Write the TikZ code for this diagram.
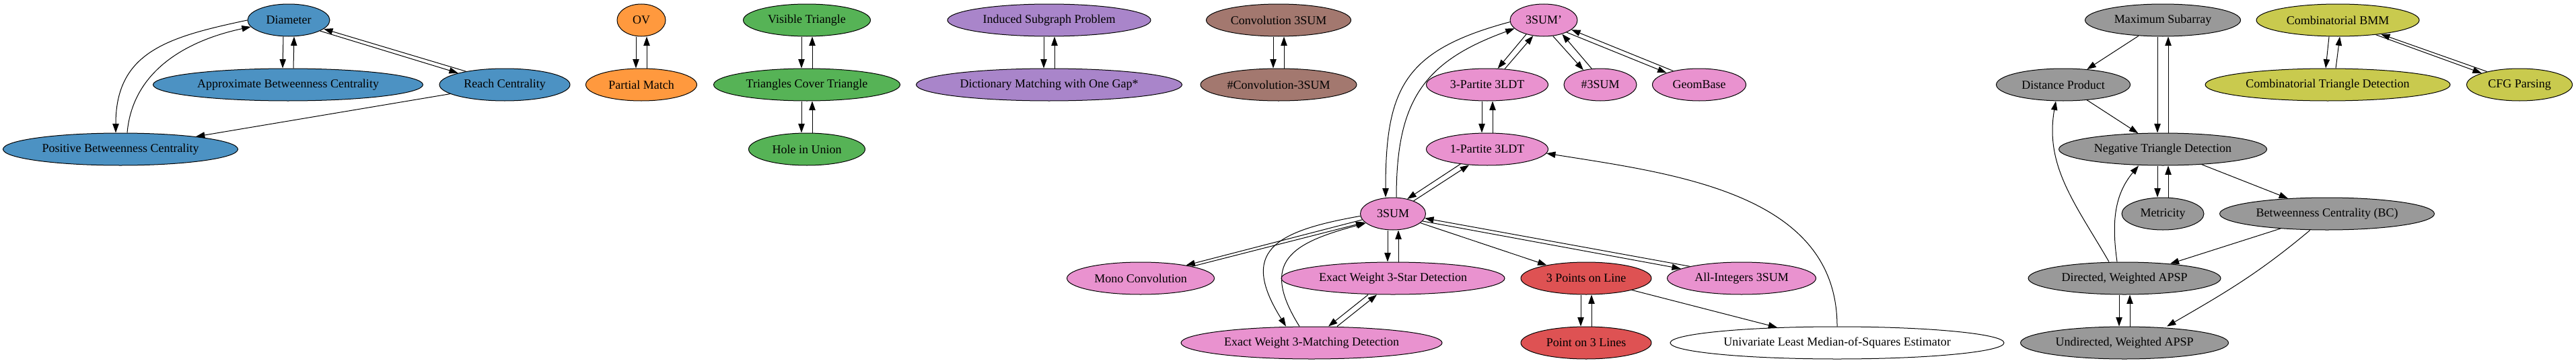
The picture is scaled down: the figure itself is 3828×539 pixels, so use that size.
\documentclass[tikz,border=0pt]{standalone}
\usepackage{fontspec}
\setmainfont{Liberation Serif}
\usetikzlibrary{shapes.geometric,arrows.meta}

\definecolor{cblue}{RGB}{76,146,195}
\definecolor{corange}{RGB}{255,153,62}
\definecolor{cgreen}{RGB}{86,179,86}
\definecolor{cpurple}{RGB}{169,133,202}
\definecolor{cbrown}{RGB}{163,120,111}
\definecolor{cpink}{RGB}{233,146,207}
\definecolor{cred}{RGB}{222,82,83}
\definecolor{cgray}{RGB}{153,153,153}
\definecolor{colive}{RGB}{201,202,78}

\tikzset{every picture/.style={line width=0.75pt}}
\tikzset{
  problem/.style={ellipse, draw, minimum width=54pt, minimum height=36pt,
    inner xsep=2pt, inner ysep=2pt, font=\fontsize{13.5}{16}\selectfont},
  reduce/.style={-{Triangle[length=10pt,width=7pt]}},
}

\begin{document}
\begin{tikzpicture}[x=0.75pt,y=0.75pt,yscale=-1,xscale=1]
\useasboundingbox (0,0) rectangle (3828,539);

%Shape: Ellipse (centrality group)
\node [problem, fill=cblue, minimum width=91.5pt] (dia) at (429,30) {Diameter};
\node [problem, fill=cblue, minimum width=300.75pt] (abc) at (428,126) {Approximate Betweenness Centrality};
\node [problem, fill=cblue, minimum width=145.5pt] (reach) at (750,126) {Reach Centrality};
\node [problem, fill=cblue, minimum width=261.75pt] (pbc) at (179,222) {Positive Betweenness Centrality};
%Shape: Ellipse (OV group)
\node [problem, fill=corange] (ov) at (953,30) {OV};
\node [problem, fill=corange, minimum width=123.75pt] (pm) at (953,126) {Partial Match};
%Shape: Ellipse (triangle group)
\node [problem, fill=cgreen, minimum width=141.75pt] (vt) at (1199,30) {Visible Triangle};
\node [problem, fill=cgreen, minimum width=207.75pt] (tct) at (1199,126) {Triangles Cover Triangle};
\node [problem, fill=cgreen, minimum width=129.75pt] (hiu) at (1199,222) {Hole in Union};
%Shape: Ellipse (subgraph group)
\node [problem, fill=cpurple, minimum width=226.5pt] (isp) at (1559,30) {Induced Subgraph Problem};
\node [problem, fill=cpurple, minimum width=296.25pt] (dmg) at (1559,126) {Dictionary Matching with One Gap*};
%Shape: Ellipse (convolution group)
\node [problem, fill=cbrown, minimum width=161.25pt] (conv) at (1900,30) {Convolution 3SUM};
\node [problem, fill=cbrown, minimum width=174pt] (nconv) at (1900,126) {\#Convolution-3SUM};
%Shape: Ellipse (3SUM group)
\node [problem, fill=cpink, minimum width=75pt] (sumpr) at (2294,30) {3SUM'};
\node [problem, fill=cpink, minimum width=135.75pt] (tpl) at (2210,126) {3-Partite 3LDT};
\node [problem, fill=cpink, minimum width=81pt] (nsum) at (2378,126) {\#3SUM};
\node [problem, fill=cpink, minimum width=104.25pt] (geom) at (2525,126) {GeomBase};
\node [problem, fill=cpink, minimum width=135.75pt] (opl) at (2210,222) {1-Partite 3LDT};
\node [problem, fill=cpink, minimum width=72.75pt] (sum) at (2070,318) {3SUM};
\node [problem, fill=cpink, minimum width=164.25pt] (mono) at (1695,414) {Mono Convolution};
\node [problem, fill=cpink, minimum width=249pt] (star) at (2070,414) {Exact Weight 3-Star Detection};
\node [problem, fill=cpink, minimum width=291pt] (match) at (1949,510) {Exact Weight 3-Matching Detection};
\node [problem, fill=cpink, minimum width=165.75pt] (aint) at (2588,414) {All-Integers 3SUM};
\node [problem, fill=cred, minimum width=145.5pt] (tpol) at (2357,414) {3 Points on Line};
\node [problem, fill=cred, minimum width=145.5pt] (po3l) at (2357,510) {Point on 3 Lines};
\node [problem, fill=white, minimum width=372pt] (ulms) at (2730,510) {Univariate Least Median-of-Squares Estimator};
%Shape: Ellipse (APSP group)
\node [problem, fill=cgray, minimum width=173.25pt] (maxs) at (3214,30) {Maximum Subarray};
\node [problem, fill=cgray, minimum width=149.25pt] (dp) at (3066,126) {Distance Product};
\node [problem, fill=cgray, minimum width=231.75pt] (ntd) at (3214,222) {Negative Triangle Detection};
\node [problem, fill=cgray, minimum width=91.5pt] (met) at (3214,318) {Metricity};
\node [problem, fill=cgray, minimum width=239.25pt] (bc) at (3458,318) {Betweenness Centrality (BC)};
\node [problem, fill=cgray, minimum width=214.5pt] (dapsp) at (3157,414) {Directed, Weighted APSP};
\node [problem, fill=cgray, minimum width=231.75pt] (uapsp) at (3157,510) {Undirected, Weighted APSP};
%Shape: Ellipse (BMM group)
\node [problem, fill=colive, minimum width=181.5pt] (cbmm) at (3474,30) {Combinatorial BMM};
\node [problem, fill=colive, minimum width=273pt] (ctd) at (3459,126) {Combinatorial Triangle Detection};
\node [problem, fill=colive, minimum width=117.75pt] (cfg) at (3744,126) {CFG Parsing};

%Straight Lines (centrality group)
\draw [reduce] ([xshift=-6pt]dia.south) -- ([xshift=-6pt]abc.north);
\draw [reduce] ([xshift=6pt]abc.north) -- ([xshift=6pt]dia.south);
\draw [reduce] (dia.-19) -- (reach.166);
\draw [reduce] (reach.161) -- (dia.-14);
\draw [reduce] (reach) -- (pbc);
%Curve Lines
\draw [reduce] (dia.180) to[out=168,in=-90,looseness=1.2] ([xshift=-5.25pt]pbc.north);
\draw [reduce] ([xshift=7.5pt]pbc.north) to[out=-85,in=168] (dia.190);

%Straight Lines (small pairs)
\draw [reduce] ([xshift=-6pt]ov.south) -- ([xshift=-6pt]pm.north);
\draw [reduce] ([xshift=6pt]pm.north) -- ([xshift=6pt]ov.south);
\draw [reduce] ([xshift=-6pt]vt.south) -- ([xshift=-6pt]tct.north);
\draw [reduce] ([xshift=6pt]tct.north) -- ([xshift=6pt]vt.south);
\draw [reduce] ([xshift=-6pt]tct.south) -- ([xshift=-6pt]hiu.north);
\draw [reduce] ([xshift=6pt]hiu.north) -- ([xshift=6pt]tct.south);
\draw [reduce] ([xshift=-6pt]isp.south) -- ([xshift=-6pt]dmg.north);
\draw [reduce] ([xshift=6pt]dmg.north) -- ([xshift=6pt]isp.south);
\draw [reduce] ([xshift=-6pt]conv.south) -- ([xshift=-6pt]nconv.north);
\draw [reduce] ([xshift=6pt]nconv.north) -- ([xshift=6pt]conv.south);

%Straight Lines (3SUM group)
\draw [reduce] (sumpr.219) -- (tpl.57);
\draw [reduce] (tpl.42) -- (sumpr.236);
\draw [reduce] (sumpr.300) -- (nsum.139);
\draw [reduce] (nsum.118) -- (sumpr.323);
\draw [reduce] (sumpr.332) -- (geom.160);
\draw [reduce] (geom.152) -- (sumpr.341);
\draw [reduce] ([xshift=-6pt]tpl.south) -- ([xshift=-6pt]opl.north);
\draw [reduce] ([xshift=6pt]opl.north) -- ([xshift=6pt]tpl.south);
\draw [reduce] (opl.209) -- (sum.46);
\draw [reduce] (sum.32) -- (opl.221);
\draw [reduce] (sum.191) -- (mono.16);
\draw [reduce] (mono.13) -- (sum.197);
\draw [reduce] ([xshift=-6pt]sum.south) -- ([xshift=-6pt]star.north);
\draw [reduce] ([xshift=6pt]star.north) -- ([xshift=6pt]sum.south);
\draw [reduce] ([xshift=-27.75pt]star.south) -- ([xshift=18.75pt]match.north);
\draw [reduce] ([xshift=28.5pt]match.north) -- ([xshift=-18pt]star.south);
\draw [reduce] (sum) -- (tpol);
\draw [reduce] (sum.-14) -- (aint.171);
\draw [reduce] (aint.167) -- (sum.-8);
\draw [reduce] ([xshift=-6pt]tpol.south) -- ([xshift=-6pt]po3l.north);
\draw [reduce] ([xshift=6pt]po3l.north) -- ([xshift=6pt]tpol.south);
\draw [reduce] (tpol) -- (ulms);
%Curve Lines
\draw [reduce] (sumpr.183) to[out=165,in=-90,looseness=1.3] ([xshift=-8.25pt]sum.north);
\draw [reduce] ([xshift=3.75pt]sum.north) to[out=-90,in=160,looseness=1.2] (sumpr.196);
\draw [reduce] (sum.184) to[out=170,in=-122,looseness=1.7] ([xshift=-28.5pt]match.north);
\draw [reduce] ([xshift=-13.5pt]match.north) to[out=-122,in=165,looseness=1.6] (sum.199);
\draw [reduce] (ulms.north) to[out=-90,in=9] (opl.-4);

%Straight Lines (APSP group)
\draw [reduce] (maxs) -- (dp);
\draw [reduce] ([xshift=-6pt]maxs.south) -- ([xshift=-6pt]ntd.north);
\draw [reduce] ([xshift=6pt]ntd.north) -- ([xshift=6pt]maxs.south);
\draw [reduce] (dp) -- (ntd);
\draw [reduce] ([xshift=-6pt]ntd.south) -- ([xshift=-6pt]met.north);
\draw [reduce] ([xshift=6pt]met.north) -- ([xshift=6pt]ntd.south);
\draw [reduce] (ntd) -- (bc);
\draw [reduce] (bc) -- (dapsp);
\draw [reduce] ([xshift=-6pt]dapsp.south) -- ([xshift=-6pt]uapsp.north);
\draw [reduce] ([xshift=6pt]uapsp.north) -- ([xshift=6pt]dapsp.south);
%Curve Lines
\draw [reduce] ([xshift=-17.25pt]dapsp.north) to[out=-120,in=100] ([xshift=-8.25pt]dp.south);
\draw [reduce] ([xshift=-8.25pt]dapsp.north) to[out=-98,in=130] ([xshift=-27pt]ntd.south);
\draw [reduce] ([xshift=-19pt]bc.south) to[out=140,in=-30] ([xshift=47.25pt]uapsp.north);

%Straight Lines (BMM group)
\draw [reduce] ([xshift=-9.75pt]cbmm.south) -- ([xshift=-2.25pt]ctd.north);
\draw [reduce] ([xshift=9pt]ctd.north) -- ([xshift=2.25pt]cbmm.south);
\draw [reduce] (cbmm.-21) -- (cfg.163);
\draw [reduce] (cfg.158) -- (cbmm.-18);

\end{tikzpicture}
\end{document}
